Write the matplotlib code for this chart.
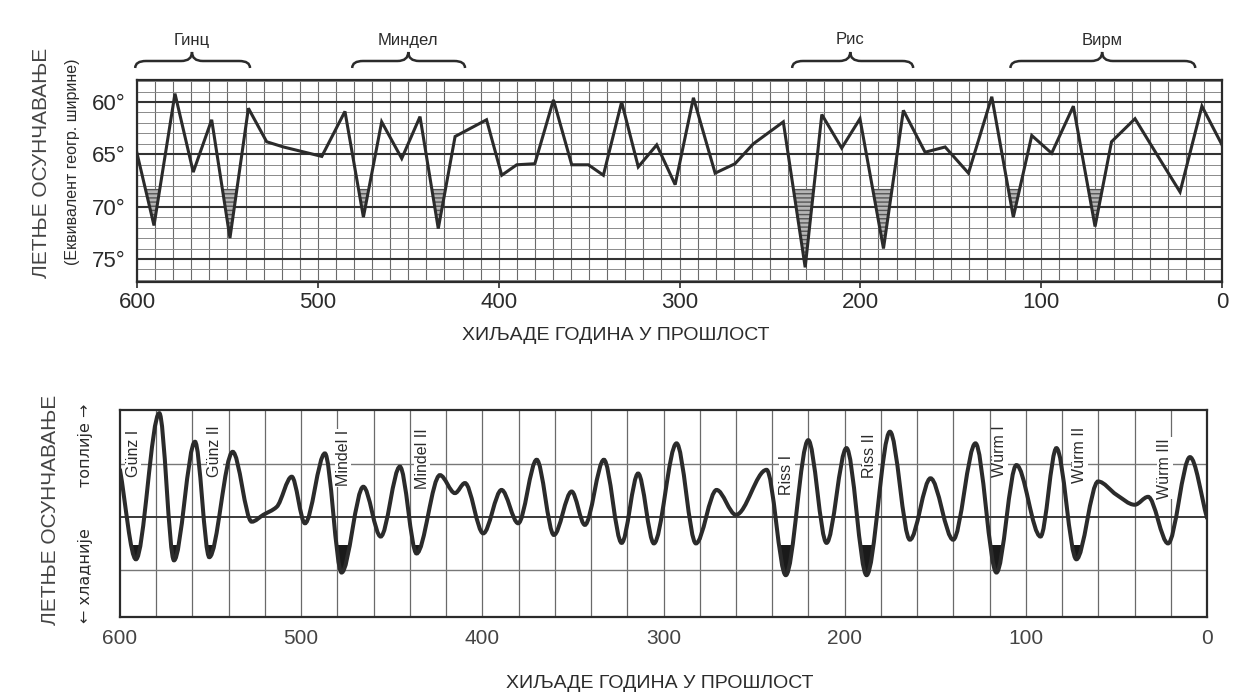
import matplotlib
matplotlib.use("Agg")
import matplotlib.pyplot as plt
import matplotlib.transforms as mtransforms
from matplotlib.path import Path
from matplotlib.patches import PathPatch, Rectangle
import numpy as np

plt.rcParams['font.family'] = ['Liberation Sans', 'DejaVu Sans']

# top panel: equivalent latitude (degrees), thousands of years ago
top_kyr = [600, 590.6, 579, 568.9, 558.7, 548.6, 538.4, 528.3, 519, 497.8, 485, 474.8,
           464.7, 453.6, 443.5, 433.4, 424.1, 406.7, 398.3, 390, 380, 369.7, 359.6,
           350.4, 342.1, 332, 322.8, 312.6, 302.4, 292.3, 280.3, 269.3, 259.2, 242.6,
           230.5, 221.3, 210.3, 200.2, 187.2, 176.2, 164.2, 153.1, 140.2, 127.3, 115.4,
           105.2, 94.2, 82.2, 70.2, 61.1, 48.1, 34.3, 23.2, 11.1, 0]
top_deg = [64.9, 71.8, 59.2, 66.7, 61.7, 73.0, 60.6, 63.8, 64.3, 65.2, 60.9, 71.0,
           61.9, 65.4, 61.4, 72.1, 63.3, 61.7, 67.0, 66.0, 65.9, 59.8, 66.0,
           66.0, 67.0, 60.0, 66.2, 64.1, 67.9, 59.6, 66.8, 65.9, 64.0, 61.9,
           75.8, 61.2, 64.4, 61.6, 74.0, 60.8, 64.8, 64.3, 66.8, 59.5, 71.0,
           63.2, 64.9, 60.4, 71.9, 63.8, 61.6, 65.5, 68.6, 60.4, 64.1]
top_shade_level = 68.3
top_yticks = [60, 65, 70, 75]
x_ticks = [600, 500, 400, 300, 200, 100, 0]

# glaciation brackets above the top panel: (label, start, tip, end)
brackets = [('Гинц', 601, 569.6, 537.5),
            ('Миндел', 481, 450, 418.6),
            ('Рис', 237.7, 205.6, 170.8),
            ('Вирм', 117, 66.3, 14.8)]

# bottom panel: relative summer insolation
bot_kyr = [600, 591.2, 578.3, 570.2, 558.6, 550.7, 537.8, 527.3, 520.9, 513.5, 505.2,
           497.9, 486.9, 477.7, 465.7, 456.1, 445.5, 436.3, 423.4, 415.1, 409.6, 399.5,
           389.4, 380.2, 370.0, 360.5, 350.7, 343.4, 332.9, 323.1, 314.0, 305.3, 292.8,
           282.1, 270.7, 260.0, 243.1, 232.5, 220.1, 210.0, 199.0, 187.9, 175.0, 164.0,
           152.6, 140.1, 127.8, 116.2, 105.2, 91.9, 83.1, 72.1, 60.1, 50.0, 39.9, 32.5,
           21.5, 9.4, 0]
bot_val = [0.89, -0.80, 1.96, -0.82, 1.42, -0.76, 1.23, -0.09, 0.04, 0.19, 0.76,
           -0.12, 1.2, -1.05, 0.57, -0.37, 0.95, -0.69, 0.79, 0.45, 0.64, -0.31,
           0.51, -0.12, 1.08, -0.34, 0.48, -0.15, 1.08, -0.49, 0.82, -0.50, 1.39,
           -0.50, 0.51, 0.04, 0.89, -1.1, 1.45, -0.49, 1.3, -1.1, 1.61, -0.43,
           0.73, -0.43, 1.39, -1.05, 0.98, -0.37, 1.3, -0.8, 0.67, 0.42, 0.23, 0.38,
           -0.5, 1.13, -0.02]
bot_shade_level = -0.53

stage_names = ['Günz I', 'Günz II', 'Mindel I', 'Mindel II', 'Riss I', 'Riss II',
               'Würm I', 'Würm II', 'Würm III']
stage_kyr = [592.8, 547.6, 476.9, 433.3, 231.9, 186.1, 114.3, 70.2, 23.3]
stage_top = [1.64, 1.74, 1.64, 1.68, 1.17, 1.58, 1.74, 1.70, 1.49]

INK = '#2b2b2b'
GRID = '#6a6a6a'


def smooth_path(xs, ys):
    # monotone cubic (zero slope at extrema) drawn as bezier segments
    xs = np.asarray(xs, float)
    ys = np.asarray(ys, float)
    h = np.diff(xs)
    d = np.diff(ys) / h
    m = np.zeros_like(ys)
    m[0], m[-1] = d[0], d[-1]
    for i in range(1, len(xs) - 1):
        if d[i - 1] * d[i] > 0:
            w1 = 2 * h[i] + h[i - 1]
            w2 = h[i] + 2 * h[i - 1]
            m[i] = (w1 + w2) / (w1 / d[i - 1] + w2 / d[i])
    verts = [(xs[0], ys[0])]
    codes = [Path.MOVETO]
    for i in range(len(xs) - 1):
        verts += [(xs[i] + h[i] / 3, ys[i] + m[i] * h[i] / 3),
                  (xs[i + 1] - h[i] / 3, ys[i + 1] - m[i + 1] * h[i] / 3),
                  (xs[i + 1], ys[i + 1])]
        codes += [Path.CURVE4] * 3
    return verts, codes


def draw_bracket(fig, ax, x0, xt, x1, y_end, y_mid, y_tip, r=6):
    trans = mtransforms.blended_transform_factory(ax.transData, fig.transFigure)
    verts = [(x0, y_end), (x0, y_mid), (x0 - r, y_mid),
             (xt + r, y_mid),
             (xt, y_mid), (xt, y_tip),
             (xt, y_mid), (xt - r, y_mid),
             (x1 + r, y_mid),
             (x1, y_mid), (x1, y_end)]
    codes = [Path.MOVETO, Path.CURVE3, Path.CURVE3,
             Path.LINETO,
             Path.CURVE3, Path.CURVE3,
             Path.CURVE3, Path.CURVE3,
             Path.LINETO,
             Path.CURVE3, Path.CURVE3]
    patch = PathPatch(Path(verts, codes), facecolor='none', edgecolor=INK,
                      lw=1.8, transform=trans, clip_on=False)
    fig.add_artist(patch)
    return trans


fig = plt.figure(figsize=(12.48, 7.0), dpi=100)
fig.patch.set_facecolor('white')

# ---------------- top panel ----------------
ax1 = fig.add_axes([137 / 1248, 1 - 282 / 700, 1085 / 1248, 202 / 700])
ax1.set_xlim(600, 0)
ax1.set_ylim(77.2, 57.9)

for x in range(0, 601, 10):
    ax1.axvline(x, color=GRID, lw=0.8, zorder=1)
for y in range(58, 78):
    major = y % 5 == 0
    ax1.axhline(y, color='#333333' if major else '#8a8a8a',
                lw=1.5 if major else 0.7, zorder=1)

td = np.array(top_deg)
ax1.fill_between(top_kyr, top_deg, top_shade_level, where=td > top_shade_level,
                 interpolate=True, facecolor='#b5b5b5', edgecolor='#555555',
                 hatch='----', lw=0, zorder=2)
ax1.plot(top_kyr, top_deg, color=INK, lw=2.2, solid_joinstyle='miter', zorder=3)

ax1.set_yticks(top_yticks)
ax1.set_yticklabels([f'{t}°' for t in top_yticks])
ax1.set_xticks(x_ticks)
ax1.set_xticklabels([str(t) for t in x_ticks])
ax1.tick_params(axis='y', length=0, pad=8, labelsize=16, labelcolor=INK)
ax1.tick_params(axis='x', length=4, width=1.2, color=INK, pad=3, labelsize=16,
                labelcolor=INK)
for s in ax1.spines.values():
    s.set_color(INK)
    s.set_linewidth(1.6)

for name, x0, xt, x1 in brackets:
    trans = draw_bracket(fig, ax1, x0, xt, x1, 1 - 68 / 700, 1 - 61 / 700, 1 - 52 / 700)
    fig.text(xt, 1 - 40 / 700, name, transform=trans, ha='center', va='center',
             fontsize=12, color=INK)

fig.text(42 / 1248, 1 - 163 / 700, 'ЛЕТЊЕ ОСУНЧАВАЊЕ', rotation=90, ha='center',
         va='center', fontsize=15, color='#444444')
fig.text(72 / 1248, 1 - 162 / 700, '(Еквивалент геогр. ширине)', rotation=90,
         ha='center', va='center', fontsize=11.5, color=INK)
fig.text(616 / 1248, 1 - 335 / 700, 'ХИЉАДЕ ГОДИНА У ПРОШЛОСТ', ha='center',
         va='center', fontsize=14, color=INK)

# ---------------- bottom panel ----------------
ax2 = fig.add_axes([120 / 1248, 1 - 617 / 700, 1087 / 1248, 207 / 700])
ax2.set_xlim(600, 0)
ax2.set_ylim(-1.89, 2.02)

for x in range(20, 600, 20):
    ax2.axvline(x, color=GRID, lw=0.9, zorder=1)
for y in (-1, 0, 1):
    ax2.axhline(y, color='#3a3a3a' if y == 0 else '#777777',
                lw=1.4 if y == 0 else 1.0, zorder=1)

verts, codes = smooth_path(bot_kyr, bot_val)
curve = Path(verts, codes)
ax2.add_patch(PathPatch(curve, facecolor='none', edgecolor=INK, lw=2.9,
                        capstyle='round', zorder=3))

# dark fill of the cold troughs: area above the curve, clipped below the level
fill_verts = verts + [(bot_kyr[-1], 5), (bot_kyr[0], 5), verts[0]]
fill_codes = codes + [Path.LINETO, Path.LINETO, Path.CLOSEPOLY]
fill = PathPatch(Path(fill_verts, fill_codes), facecolor='#1a1a1a', edgecolor='none',
                 zorder=2)
ax2.add_patch(fill)
clip = Rectangle((0, -5), 600, bot_shade_level + 5, transform=ax2.transData)
fill.set_clip_path(clip)

for name, x, y in zip(stage_names, stage_kyr, stage_top):
    ax2.text(x, y, name, rotation=90, ha='center', va='top', fontsize=11.5,
             color=INK, zorder=4,
             bbox=dict(facecolor='white', edgecolor='none', pad=0.5))

ax2.set_yticks([])
ax2.set_xticks(x_ticks)
ax2.set_xticklabels([str(t) for t in x_ticks])
ax2.tick_params(axis='x', length=0, pad=9, labelsize=15, labelcolor='#444444')
for s in ax2.spines.values():
    s.set_color(INK)
    s.set_linewidth(1.6)

fig.text(50 / 1248, 1 - 510 / 700, 'ЛЕТЊЕ ОСУНЧАВАЊЕ', rotation=90, ha='center',
         va='center', fontsize=15, color='#444444')
fig.text(85 / 1248, 1 - 513 / 700, '← хладније        топлије →', rotation=90,
         ha='center', va='center', fontsize=11.5, color=INK,
         family=['DejaVu Sans', 'Liberation Sans'])
fig.text(660 / 1248, 1 - 683 / 700, 'ХИЉАДЕ ГОДИНА У ПРОШЛОСТ', ha='center',
         va='center', fontsize=14, color=INK)

fig.savefig('out.png', dpi=100, facecolor='white')
